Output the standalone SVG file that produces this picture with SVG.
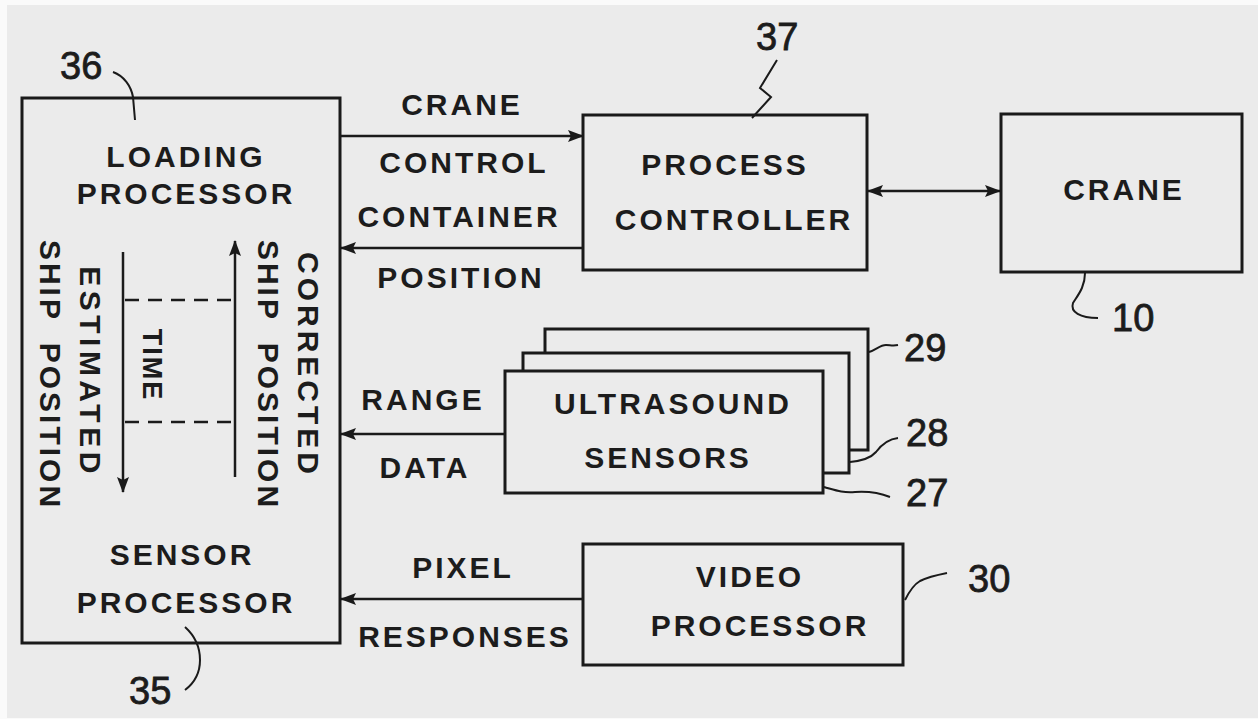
<svg xmlns="http://www.w3.org/2000/svg" width="1258" height="719" viewBox="0 0 1258 719">
<defs>
<style>
.bg{fill:#ebebeb}
.box{fill:#ebebeb;stroke:#1a1a1a;stroke-width:3}
.ln{fill:none;stroke:#1a1a1a;stroke-width:2.5}
.lead{fill:none;stroke:#1a1a1a;stroke-width:2}
.dash{fill:none;stroke:#1a1a1a;stroke-width:2.5;stroke-dasharray:14 9}
.t{font-family:"Liberation Sans",Arial,sans-serif;font-size:30px;font-weight:bold;fill:#1c1c1c;letter-spacing:3px;text-anchor:middle}
.n{font-family:"Liberation Sans",Arial,sans-serif;font-size:38px;fill:#1c1c1c;stroke:#1c1c1c;stroke-width:0.8}
</style>
<marker id="ah" viewBox="0 0 16 12" refX="15" refY="6" markerWidth="16" markerHeight="12" markerUnits="userSpaceOnUse" orient="auto-start-reverse">
<path d="M0,0 L16,6 L0,12 L3,6 Z" fill="#1a1a1a"/>
</marker>
</defs>
<rect x="0" y="0" width="1258" height="719" fill="#fafafa"/>
<rect class="bg" x="7" y="5" width="1251" height="713"/>

<g id="sensor-loading-processor">
<rect class="box" x="22" y="98" width="318" height="545"/>
<text class="t" x="186" y="167">LOADING</text>
<text class="t" x="186" y="204">PROCESSOR</text>
<text class="t" x="182" y="565">SENSOR</text>
<text class="t" x="186" y="613">PROCESSOR</text>
<text class="t" transform="translate(80,372) rotate(90)" style="letter-spacing:4.5px">ESTIMATED</text>
<text class="t" transform="translate(40,375) rotate(90)" style="word-spacing:10px">SHIP POSITION</text>
<text class="t" transform="translate(298,365) rotate(90)" style="letter-spacing:4px">CORRECTED</text>
<text class="t" transform="translate(258,375) rotate(90)" style="word-spacing:10px">SHIP POSITION</text>
<text class="t" transform="translate(143,365) rotate(90)" style="font-size:27px;letter-spacing:2px">TIME</text>
<line class="ln" x1="123" y1="252" x2="123" y2="492" marker-end="url(#ah)"/>
<line class="ln" x1="235" y1="477" x2="235" y2="241" marker-end="url(#ah)"/>
<line class="dash" x1="125" y1="300" x2="235" y2="300"/>
<line class="dash" x1="125" y1="422" x2="235" y2="422"/>
</g>

<g id="process-controller">
<rect class="box" x="583" y="115" width="284" height="155"/>
<text class="t" x="725" y="175">PROCESS</text>
<text class="t" x="734" y="230">CONTROLLER</text>
</g>

<g id="crane">
<rect class="box" x="1001" y="114" width="241" height="158"/>
<text class="t" x="1124" y="200">CRANE</text>
</g>

<g id="ultrasound-sensors">
<rect class="box" x="545" y="329" width="323" height="121"/>
<rect class="box" x="523" y="353" width="326" height="120"/>
<rect class="box" x="505" y="371" width="318" height="122"/>
<text class="t" x="673" y="414">ULTRASOUND</text>
<text class="t" x="668" y="468">SENSORS</text>
</g>

<g id="video-processor">
<rect class="box" x="583" y="544" width="320" height="121"/>
<text class="t" x="750" y="587">VIDEO</text>
<text class="t" x="760" y="636">PROCESSOR</text>
</g>

<g id="connectors">
<line class="ln" x1="340" y1="136" x2="583" y2="136" marker-end="url(#ah)"/>
<line class="ln" x1="583" y1="248" x2="341" y2="248" marker-end="url(#ah)"/>
<line class="ln" x1="868" y1="191" x2="1000" y2="191" marker-start="url(#ah)" marker-end="url(#ah)"/>
<line class="ln" x1="505" y1="434" x2="341" y2="434" marker-end="url(#ah)"/>
<line class="ln" x1="583" y1="599" x2="341" y2="599" marker-end="url(#ah)"/>
</g>

<g id="connector-labels">
<text class="t" x="462" y="115">CRANE</text>
<text class="t" x="464" y="173">CONTROL</text>
<text class="t" x="459" y="227">CONTAINER</text>
<text class="t" x="461" y="288">POSITION</text>
<text class="t" x="423" y="410">RANGE</text>
<text class="t" x="425" y="478">DATA</text>
<text class="t" x="463" y="578">PIXEL</text>
<text class="t" x="465" y="647">RESPONSES</text>
</g>

<g id="reference-numerals">
<text class="n" x="60" y="79">36</text>
<path class="lead" d="M113,72 C124,76 131,86 133,97 L135,120"/>
<text class="n" x="756" y="50">37</text>
<path class="lead" d="M777,60 L760,88 L771,97 L752,118"/>
<text class="n" x="1112" y="331">10</text>
<path class="lead" d="M1085,273 C1085,287 1078,295 1073,303 C1070,312 1080,318 1098,318"/>
<text class="n" x="904" y="361">29</text>
<path class="lead" d="M869,352 C876,350 880,345 886,345 C890,345 893,346 898,345"/>
<text class="n" x="906" y="446">28</text>
<path class="lead" d="M850,462 C860,461 870,459 876,452 C882,444 888,439 898,438"/>
<text class="n" x="906" y="506">27</text>
<path class="lead" d="M824,487 C835,490 842,493 855,492 C870,491 880,493 890,497"/>
<text class="n" x="968" y="592">30</text>
<path class="lead" d="M905,600 C909,592 913,585 920,581 C928,577 937,575 947,573"/>
<text class="n" x="129" y="704">35</text>
<path class="lead" d="M185,627 C195,636 200,648 200,660 C200,674 193,684 185,690"/>
</g>
</svg>
